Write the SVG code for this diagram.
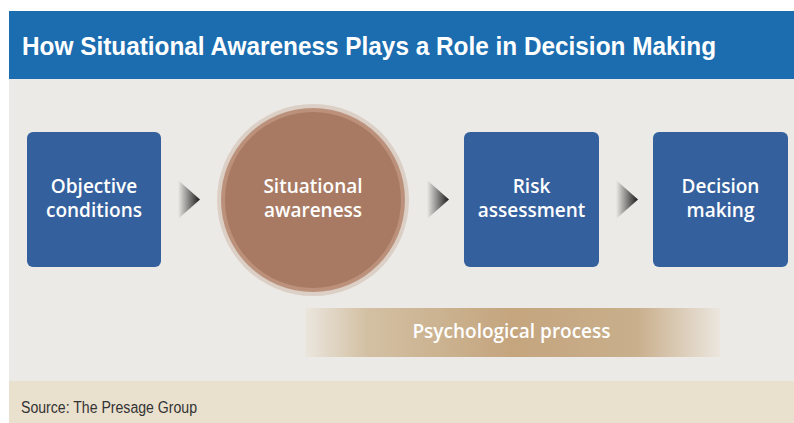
<svg xmlns="http://www.w3.org/2000/svg" width="794" height="423" viewBox="0 0 794 423">
<defs>
<style>
.lbl{font-family:"Open Sans","Liberation Sans",sans-serif;font-weight:600;font-size:19px;fill:#fff;text-anchor:middle}
.box{fill:#34619E}
</style>
<linearGradient id="arrowGrad" x1="0" y1="0" x2="1" y2="0">
<stop offset="0" stop-color="#EBEAE6"/>
<stop offset="1" stop-color="#1a1a1a"/>
</linearGradient>
<linearGradient id="barGrad" x1="0" y1="0" x2="1" y2="0">
<stop offset="0" stop-color="#EBE6DE"/>
<stop offset="0.15" stop-color="#D3C0A3"/>
<stop offset="0.5" stop-color="#C4A57E"/>
<stop offset="0.8" stop-color="#C9AF8C"/>
<stop offset="1" stop-color="#EBE6DE"/>
</linearGradient>
</defs>
<rect x="0" y="0" width="794" height="423" fill="#ffffff"/>
<rect x="9" y="11" width="785" height="68" fill="#1B6DB0"/>
<text x="22" y="55" font-family="Liberation Sans, sans-serif" font-weight="bold" font-size="26" fill="#fff" textLength="694" lengthAdjust="spacingAndGlyphs">How Situational Awareness Plays a Role in Decision Making</text>
<rect x="9" y="79" width="785" height="302" fill="#EBEAE6"/>
<rect x="9" y="381" width="785" height="42" fill="#EAE0CE"/>
<text x="21" y="413" font-family="Liberation Sans, sans-serif" font-size="16" fill="#333" textLength="176" lengthAdjust="spacingAndGlyphs">Source: The Presage Group</text>

<g id="connectors">
<polygon points="178,180 200,199.5 178,219" fill="url(#arrowGrad)"/>
<polygon points="427,180 449,199.5 427,219" fill="url(#arrowGrad)"/>
<polygon points="616,180 638,199.5 616,219" fill="url(#arrowGrad)"/>
</g>

<g id="objective">
<rect class="box" x="27" y="132" width="134" height="135" rx="6"/>
<text class="lbl" x="94" y="193">Objective</text>
<text class="lbl" x="94" y="217">conditions</text>
</g>
<g id="situational">
<circle cx="313" cy="200" r="96" fill="#DCCFC6"/>
<circle cx="313" cy="200" r="92" fill="#BC917B"/>
<circle cx="313" cy="200" r="88" fill="#A87A63"/>
<text class="lbl" x="313" y="193">Situational</text>
<text class="lbl" x="313" y="217">awareness</text>
</g>
<g id="risk">
<rect class="box" x="464" y="132" width="135" height="135" rx="6"/>
<text class="lbl" x="531.5" y="193">Risk</text>
<text class="lbl" x="531.5" y="217">assessment</text>
</g>
<g id="decision">
<rect class="box" x="653" y="132" width="135" height="135" rx="6"/>
<text class="lbl" x="720.5" y="193">Decision</text>
<text class="lbl" x="720.5" y="217">making</text>
</g>
<g id="psych">
<rect x="305" y="308" width="415" height="49" fill="url(#barGrad)"/>
<text class="lbl" x="511.5" y="338">Psychological process</text>
</g>
</svg>
